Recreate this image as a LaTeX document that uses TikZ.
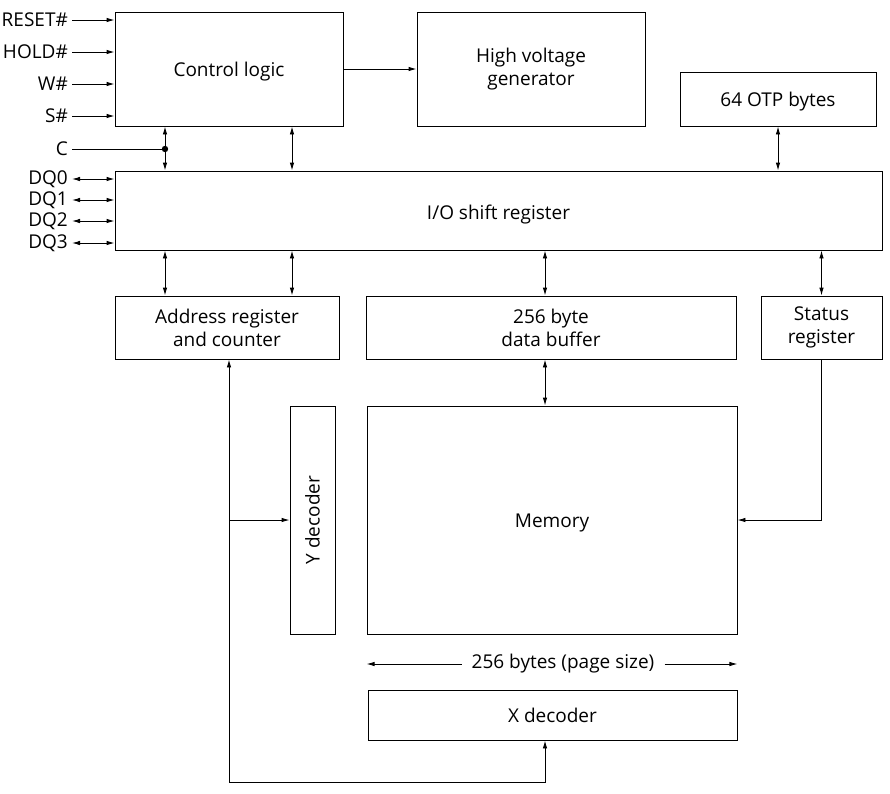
\documentclass[tikz,border=0pt]{standalone}
\usepackage{fontspec}
\setmainfont{Open Sans}
\usepackage{xcolor}
\usetikzlibrary{arrows.meta, positioning}

% lower the ink of a one-line label without changing its box
\newcommand{\sinklabel}[2]{\raisebox{-#1}[\height][\depth]{#2}}

\begin{document}
\begin{tikzpicture}[
    x=1pt, y=-1pt,
    every node/.style={font=\fontsize{19}{23}\selectfont},
    box/.style={rectangle, draw, line width=0.9pt, align=center, inner sep=0pt},
    sig/.style={anchor=east, inner sep=4pt},
    link/.style={line width=0.9pt, arrows={-Latex[length=8pt, width=4.5pt]}},
    bilink/.style={line width=0.9pt, arrows={Latex[length=8pt, width=4.5pt]-Latex[length=8pt, width=4.5pt]}}
]
\useasboundingbox (0,0) rectangle (890,793);

% blocks
\node[box, minimum width=228pt, minimum height=114pt] (ctrl) at (229,69) {\sinklabel{3pt}{Control logic}};
\node[box, minimum width=228pt, minimum height=114pt] (hvgen) at (531,69) {High voltage\\generator};
\node[box, minimum width=196pt, minimum height=54pt] (otp) at (778,99) {\sinklabel{3pt}{64 OTP bytes}};
\node[box, minimum width=767pt, minimum height=79pt] (io) at (498.5,210.5) {\sinklabel{4pt}{I/O shift register}};
\node[box, minimum width=224pt, minimum height=63pt] (addr) at (227,327.5) {Address register\\and counter};
\node[box, minimum width=370pt, minimum height=63pt] (buf) at (551,327.5) {256 byte\\data buffer};
\node[box, minimum width=121pt, minimum height=63pt] (stat) at (821.5,327.5) {Status\\register};
\node[box, minimum width=45pt, minimum height=228pt] (ydec) at (312.5,520) {\rotatebox{90}{Y decoder}};
\node[box, minimum width=370pt, minimum height=228pt] (mem) at (552,520) {\sinklabel{3pt}{Memory}};
\node[box, minimum width=369pt, minimum height=50pt] (xdec) at (552.5,715) {X decoder};
\node[inner sep=10pt] (page) at (563,664) {256 bytes (page size)};

% pins
\node[sig] (reset) at (72,20) {RESET\#};
\node[sig] (hold) at (72,52) {HOLD\#};
\node[sig] (wp) at (72,84) {W\#};
\node[sig] (sel) at (72,116) {S\#};
\node[sig] (clk) at (72,149) {C};
\node[sig] (dq0) at (72,179) {DQ0};
\node[sig] (dq1) at (72,200) {DQ1};
\node[sig] (dq2) at (72,221) {DQ2};
\node[sig] (dq3) at (72,243) {DQ3};

\coordinate (cdot) at (165,149);
\coordinate (colB) at (292,149);
\coordinate (colD) at (545,0);
\coordinate (loopbot) at (229,782);

\foreach \p in {reset, hold, wp, sel}
    \draw[link] (\p.east) -- (\p.east -| ctrl.west);
\foreach \p in {dq0, dq1, dq2, dq3}
    \draw[bilink] (\p.east) -- (\p.east -| io.west);

\draw[line width=0.9pt] (clk.east) -- (cdot);
\fill (cdot) circle (3.2pt);
\draw[bilink] (ctrl.south -| cdot) -- (io.north -| cdot);
\draw[bilink] (ctrl.south -| colB) -- (io.north -| colB);
\draw[link] (ctrl.east) -- (ctrl.east -| hvgen.west);
\draw[bilink] (otp.south) -- (otp.south |- io.north);

\draw[bilink] (io.south -| cdot) -- (addr.north -| cdot);
\draw[bilink] (io.south -| colB) -- (addr.north -| colB);
\draw[bilink] (io.south -| colD) -- (buf.north -| colD);
\draw[bilink] (io.south -| stat.north) -- (stat.north);
\draw[bilink] (buf.south -| colD) -- (mem.north -| colD);
\draw[link] (stat.south) |- (mem.east);

\draw[link] (loopbot) -- (loopbot |- addr.south);
\draw[link] (loopbot |- ydec.west) -- (ydec.west);
\draw[link] (loopbot) -| (xdec.south -| colD);

\draw[link] (page.west) -- (page.west -| mem.west);
\draw[link] (page.east) -- (page.east -| mem.east);

\end{tikzpicture}
\end{document}
